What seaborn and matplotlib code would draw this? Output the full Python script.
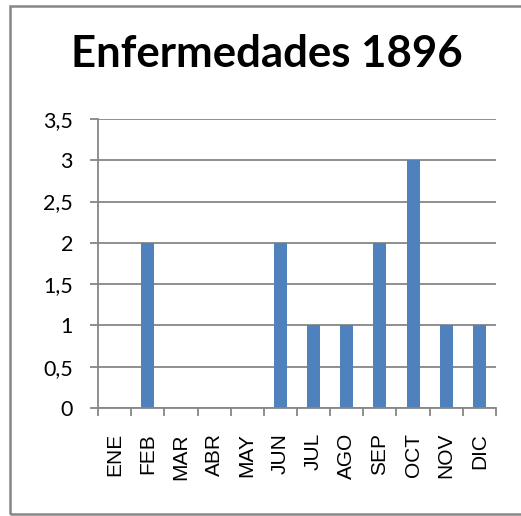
import matplotlib
matplotlib.use("Agg")
import matplotlib.pyplot as plt
from matplotlib.patches import Rectangle
from matplotlib.ticker import FuncFormatter, FixedLocator
import seaborn as sns
import pandas as pd

# data
meses = ['ENE', 'FEB', 'MAR', 'ABR', 'MAY', 'JUN',
         'JUL', 'AGO', 'SEP', 'OCT', 'NOV', 'DIC']
casos = [0, 2, 0, 0, 0, 2, 1, 1, 2, 3, 1, 1]
titulo = 'Enfermedades 1896'

df = pd.DataFrame({'mes': meses, 'casos': casos})

sns.set_style('white')
plt.rcParams['font.family'] = ['Lato', 'DejaVu Sans']
plt.rcParams['text.color'] = 'black'
plt.rcParams['xtick.labelcolor'] = 'black'
plt.rcParams['ytick.labelcolor'] = 'black'

fig = plt.figure(figsize=(5.21, 5.16), dpi=100)
ax = fig.add_axes([98/521, 1 - 408/516, (496 - 98)/521, (408 - 119)/516])

sns.barplot(df, x='mes', y='casos', color='#4F81BD', saturation=1,
            width=0.39, linewidth=0, ax=ax)

gris = '#868686'
ax.set_ylim(0, 3.5)
ax.set_xlim(-0.5, len(meses) - 0.5)
ax.set_yticks([0, 0.5, 1, 1.5, 2, 2.5, 3, 3.5])
ax.yaxis.set_major_formatter(FuncFormatter(lambda v, p: f'{v:g}'.replace('.', ',')))
ax.yaxis.grid(True, color=gris, linewidth=1.3)
ax.set_axisbelow(True)

# category ticks between bars, labels at centres
ax.xaxis.set_major_locator(FixedLocator([i - 0.5 for i in range(len(meses) + 1)]))
ax.xaxis.set_major_formatter(FuncFormatter(lambda v, p: ''))
ax.set_xticks(range(len(meses)), minor=True)
ax.set_xticklabels(meses, minor=True, rotation=90, fontsize=15,
                   family=['Liberation Sans', 'DejaVu Sans'])
ax.tick_params(axis='x', which='minor', length=0, pad=18)
ax.tick_params(axis='x', which='major', length=6, width=1.3, color=gris, direction='out')
ax.tick_params(axis='y', length=6, width=1.3, color=gris, direction='out',
               labelsize=15.5, pad=12)
ax.tick_params(bottom=True, left=True)

for s in ['top', 'right']:
    ax.spines[s].set_visible(False)
for s in ['left', 'bottom']:
    ax.spines[s].set_color(gris)
    ax.spines[s].set_linewidth(1.3)

ax.set_xlabel('')
ax.set_ylabel('')

fig.text(0.513, 0.895, titulo, ha='center', va='center',
         fontsize=31.5, fontweight='bold')

# outer chart border
fig.patches.append(Rectangle((9.5/521, 1 - 514/516), 520/521, (514 - 6)/516,
                             transform=fig.transFigure, fill=False,
                             edgecolor=gris, linewidth=1.8))

fig.savefig('out.png', dpi=100)
